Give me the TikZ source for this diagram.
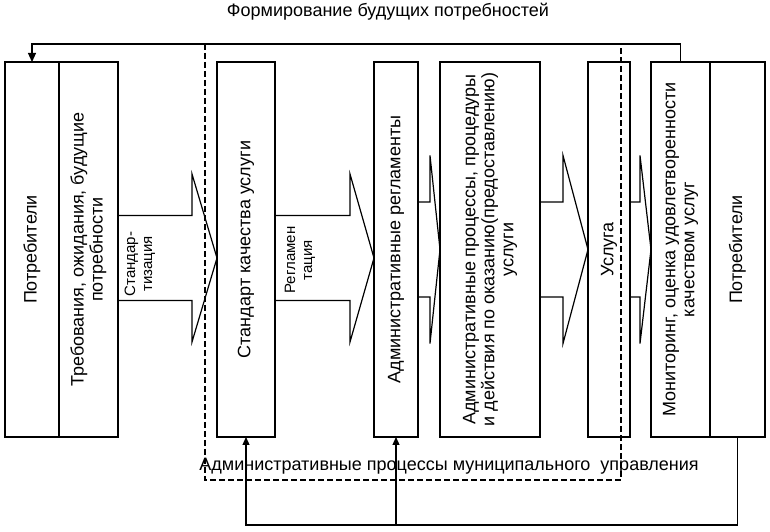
\documentclass[tikz,border=0pt]{standalone}
\usepackage{fontspec}
\setmainfont{Liberation Sans}
\usepackage{tikz}
\usetikzlibrary{arrows.meta,positioning,calc}
\tikzset{
    box/.style={rectangle, draw, line width=1.2pt, minimum height=375pt, inner sep=0pt, outer sep=0pt, fill=white},
    vtext/.style={rotate=90, align=center, font=\fontsize{18}{19}\selectfont},
    alabel/.style={rotate=90, align=center, font=\fontsize{15}{17}\selectfont},
    barrow/.style={line width=1.2pt, line join=miter},
    frame/.style={line width=1.2pt, dash pattern=on 6pt off 3pt},
    fb/.style={line width=1.2pt},
    fbarrow/.style={-{Triangle[length=9pt, width=8pt]}, line width=1.2pt},
    upa/.style={-{Triangle[length=8pt, width=7pt]}, line width=1.2pt},
}
\begin{document}
\begin{tikzpicture}[x=1pt, y=1pt]
    \useasboundingbox (0,0) rectangle (770,532);

    \node[box, minimum width=54pt, anchor=west] (potr) at (5,282.5) {};
    \node[box, minimum width=59pt, right=0pt of potr] (treb) {};
    \node[box, minimum width=58pt, right=99pt of treb] (stand) {};
    \node[box, minimum width=44pt, right=99pt of stand] (regl) {};
    \node[box, minimum width=100pt, right=22pt of regl] (proc) {};
    \node[box, minimum width=42pt, right=48pt of proc] (usl) {};
    \node[box, minimum width=59pt, right=21pt of usl] (monit) {};
    \node[box, minimum width=55pt, right=0pt of monit] (potrb) {};

    \foreach \s/\t/\dy/\bh/\hh/\hl in {treb/stand/-8.5/42.5/84/25, stand/regl/-8.5/42.5/84/24, regl/proc/0/47.5/94/10, proc/usl/0/47.5/94/25, usl/monit/0/47.5/94/11}
        \draw[barrow] ([yshift=\dy+\bh]\s.east) -- ([xshift=-\hl, yshift=\dy+\bh]\t.west) -- ([xshift=-\hl, yshift=\dy+\hh]\t.west) -- ([yshift=\dy]\t.west) -- ([xshift=-\hl, yshift=\dy-\hh]\t.west) -- ([xshift=-\hl, yshift=\dy-\bh]\t.west) -- ([yshift=\dy-\bh]\s.east);

    \node[vtext] at (potr) {Потребители};
    \node[vtext] at (treb) {Требования, ожидания, будущие\\потребности};
    \node[vtext] at (stand) {Стандарт качества услуги};
    \node[vtext] at (regl) {Административные регламенты};
    \node[vtext] at (proc) {Административные процессы, процедуры\\и действия по оказанию(предоставлению)\\услуги};
    \node[vtext] at (usl) {Услуга};
    \node[vtext] at (monit) {Мониторинг, оценка удовлетворенности\\качеством услуг};
    \node[vtext] at (potrb) {Потребители};

    \node[alabel] (standlbl) at (140,268) {Стандар-\\тизация};
    \node[alabel] (regllbl) at (300,272) {Регламен\\тация};

    \node[font=\fontsize{18}{19}\selectfont] (title) at (388,520) {Формирование будущих потребностей};

    \draw[fbarrow] (monit.north) -- ++(0,18) -| (potr.north);
    \draw[frame] (205,488) rectangle (621,52);
    \node[font=\fontsize{18}{19}\selectfont] (apmu) at (449,66) {Административные процессы муниципального\ \ управления};

    \coordinate (bot) at ($(potrb.south)+(0,-88)$);
    \draw[fb] (potrb.south) -- (bot);
    \draw[upa] (bot) -| (stand.south);
    \draw[upa] (regl.south |- bot) -- (regl.south);
\end{tikzpicture}
\end{document}
